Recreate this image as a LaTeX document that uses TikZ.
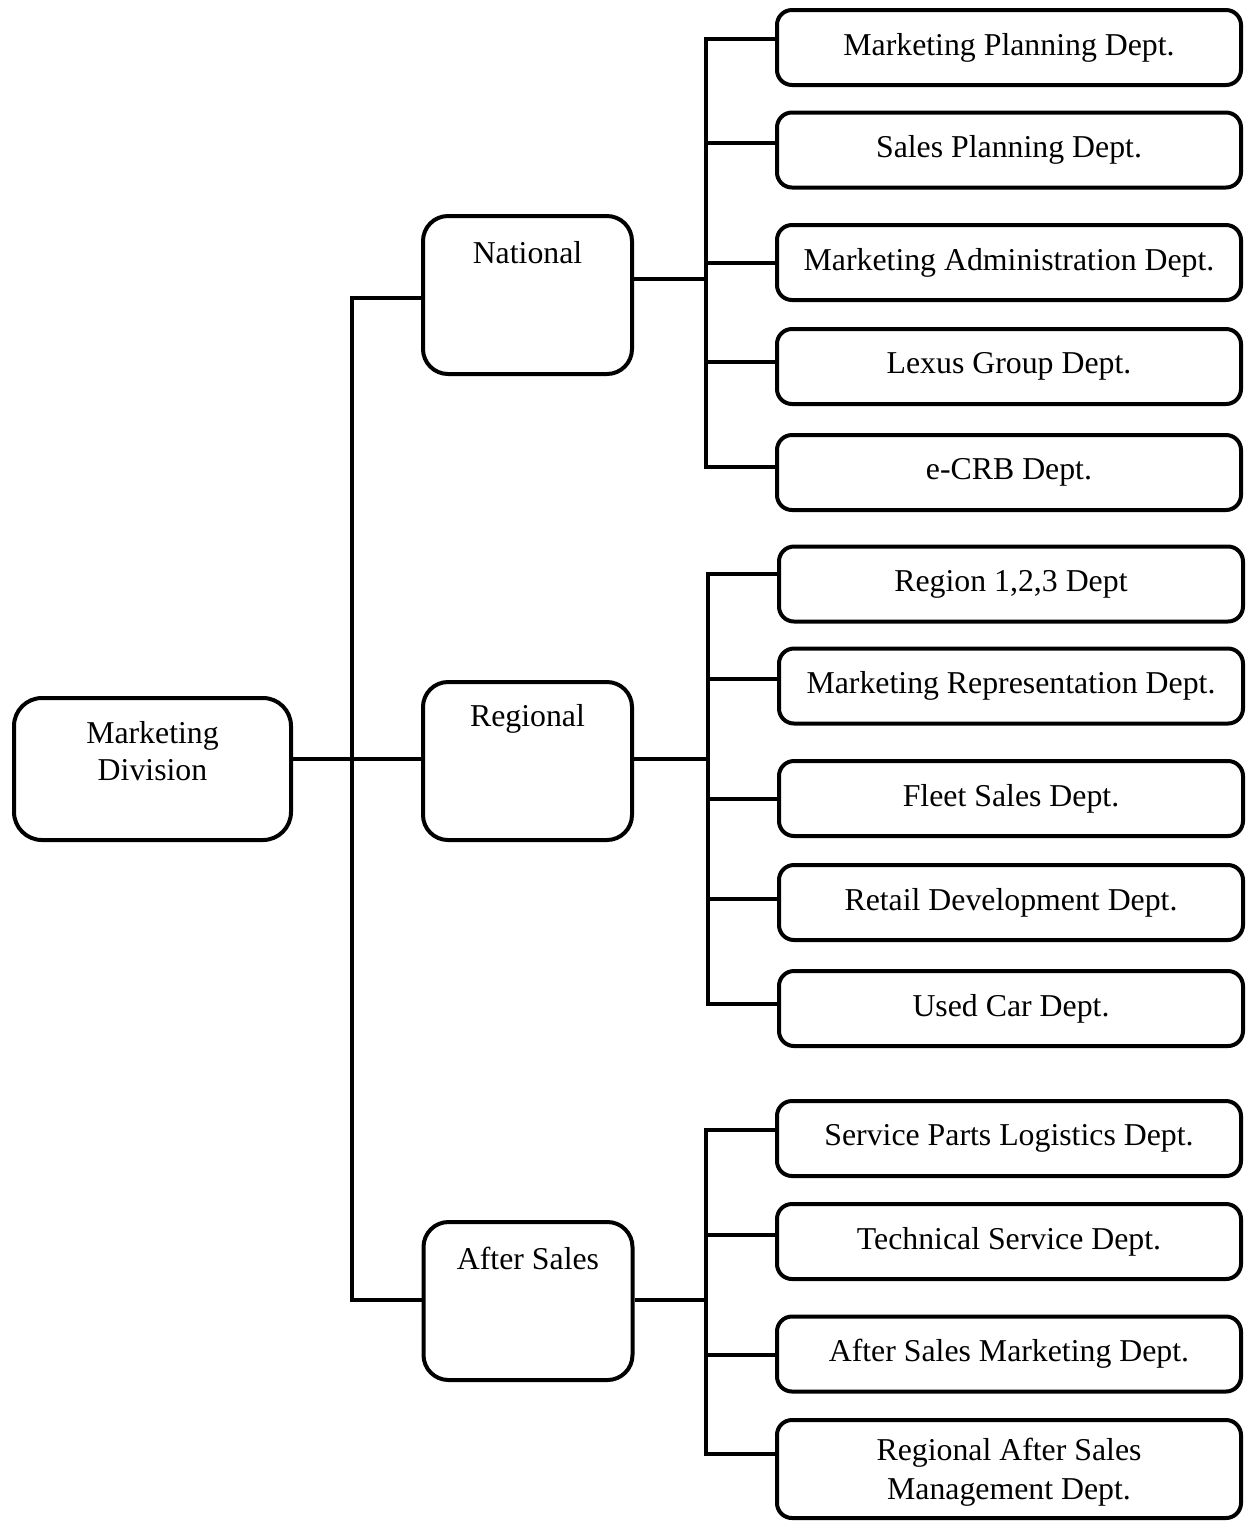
\documentclass[tikz,border=0pt]{standalone}
\usepackage{fontspec}
\setmainfont{Liberation Serif}
\usetikzlibrary{calc}
\begin{document}
\begin{tikzpicture}[x=0.5pt,y=-0.5pt,
  font=\fontsize{15.9}{18.5}\selectfont,
  box/.style={draw, line width=2pt, rounded corners=#1, inner sep=0pt, align=center},
  leftbox/.style={box=12.5pt, minimum width=104.5pt, minimum height=79pt},
  deptbox/.style={box=7.5pt, minimum width=232pt, minimum height=37.5pt},
  lbl/.style={inner sep=0pt, align=center},
  conn/.style={line width=1.8pt, line join=miter}]
\useasboundingbox (0,0) rectangle (1248,1523);

% top of the tree
\node[box=14pt, minimum width=138.5pt, minimum height=71pt] (md) at (152.5,769) {};
\node[lbl] (mdT) at ($(md.north)+(0,55)$) {Marketing\\Division};

% second level
\node[leftbox] (nat) at (527.5,295) {};
\node[lbl] (natT) at ($(nat.north)+(0,39)$) {National};
\node[leftbox] (reg) at (527.5,761) {};
\node[lbl] (regT) at ($(reg.north)+(0,39)$) {Regional};
\node[leftbox] (aft) at (528,1301) {};
\node[lbl] (aftT) at ($(aft.north)+(0,38)$) {After Sales};

% national departments
\node[deptbox] (mp) at (1009,47.5) {Marketing Planning Dept.};
\node[deptbox] (sp) at (1009,150) {Sales Planning Dept.};
\node[deptbox] (ma) at (1009,262.5) {Marketing Administration Dept.};
\node[deptbox] (lx) at (1009,366.5) {Lexus Group Dept.};
\node[deptbox] (ec) at (1009,472.5) {e-CRB Dept.};

% regional departments
\node[deptbox] (r1) at (1011,584) {Region 1,2,3 Dept};
\node[deptbox] (mr) at (1011,686) {Marketing Representation Dept.};
\node[deptbox] (fs) at (1011,798.5) {Fleet Sales Dept.};
\node[deptbox] (rd) at (1011,902.5) {Retail Development Dept.};
\node[deptbox] (uc) at (1011,1008.5) {Used Car Dept.};

% after-sales departments
\node[deptbox] (spl) at (1009,1138.5) {Service Parts Logistics Dept.};
\node[deptbox] (ts) at (1009,1241.5) {Technical Service Dept.};
\node[deptbox] (asm) at (1009,1354) {After Sales Marketing Dept.};
\node[deptbox, minimum height=49pt, text depth=0pt,
      font=\fontsize{15.9}{19.5}\selectfont] (rasm) at (1009,1469)
  {Regional After Sales\\Management Dept.};

% division to groups
\coordinate (t0) at (352,759);
\coordinate (tN) at (352,298);
\coordinate (tA) at (352,1300);
\draw[conn] (t0 -| md.east) -- (t0);
\draw[conn] (tN -| nat.west) -- (tN) -- (tA) -- (tA -| aft.west);
\draw[conn] (t0) -- (t0 -| reg.west);

% national group
\coordinate (nx) at (706,279);
\coordinate (n1) at (706,39);
\coordinate (n2) at (706,143);
\coordinate (n3) at (706,263);
\coordinate (n4) at (706,362);
\coordinate (n5) at (706,467);
\draw[conn] (nx -| nat.east) -- (nx);
\draw[conn] (n1 -| mp.west) -- (n1) -- (n5) -- (n5 -| ec.west);
\draw[conn] (n2) -- (n2 -| sp.west);
\draw[conn] (n3) -- (n3 -| ma.west);
\draw[conn] (n4) -- (n4 -| lx.west);

% regional group
\coordinate (rx) at (708,759);
\coordinate (r1c) at (708,574);
\coordinate (r2c) at (708,679);
\coordinate (r3c) at (708,799);
\coordinate (r4c) at (708,899);
\coordinate (r5c) at (708,1004);
\draw[conn] (rx -| reg.east) -- (rx);
\draw[conn] (r1c -| r1.west) -- (r1c) -- (r5c) -- (r5c -| uc.west);
\draw[conn] (r2c) -- (r2c -| mr.west);
\draw[conn] (r3c) -- (r3c -| fs.west);
\draw[conn] (r4c) -- (r4c -| rd.west);

% after-sales group
\coordinate (ax) at (706,1300);
\coordinate (a1) at (706,1130);
\coordinate (a2) at (706,1235);
\coordinate (a3) at (706,1355);
\coordinate (a4) at (706,1454);
\draw[conn] (ax -| aft.east) -- (ax);
\draw[conn] (a1 -| spl.west) -- (a1) -- (a4) -- (a4 -| rasm.west);
\draw[conn] (a2) -- (a2 -| ts.west);
\draw[conn] (a3) -- (a3 -| asm.west);
\end{tikzpicture}
\end{document}
